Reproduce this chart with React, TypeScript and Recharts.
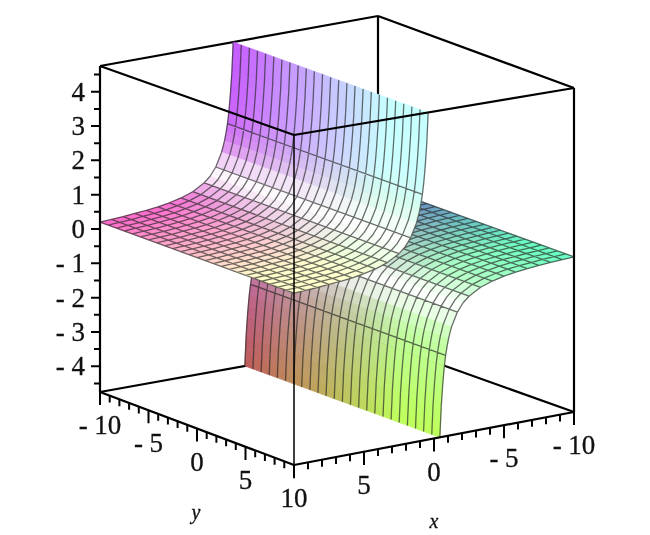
import React from "react";
import { ScatterChart, Scatter, XAxis, YAxis } from "recharts";

// surface, one z per x, same along y
const meshY = [-10, -9.17, -8.33, -7.5, -6.67, -5.83, -5, -4.17, -3.33, -2.5, -1.67, -0.83, 0, 0.83, 1.67, 2.5, 3.33, 4.17, 5, 5.83, 6.67, 7.5, 8.33, 9.17, 10];
const meshXPos = [10, 9.17, 8.33, 7.5, 6.67, 5.83, 5, 4.17, 3.33, 2.5, 1.67, 0.83];
const meshXNeg = [-10, -9.17, -8.33, -7.5, -6.67, -5.83, -5, -4.17, -3.33, -2.5, -1.67, -0.83];
const xPos = [0.42, 0.45, 0.48, 0.51, 0.56, 0.61, 0.67, 0.74, 0.83, 0.93, 1.04, 1.25, 1.67, 2.08, 2.5, 3.33, 4.17, 5, 5.83, 6.67, 7.5, 8.33, 9.17, 10];
const zPos = [4.75, 4.45, 4.2, 3.9, 3.6, 3.3, 3.0, 2.7, 2.4, 2.15, 1.92, 1.6, 1.2, 0.96, 0.8, 0.6, 0.48, 0.4, 0.34, 0.3, 0.27, 0.24, 0.22, 0.2];
const xNeg = [-10, -9.17, -8.33, -7.5, -6.67, -5.83, -5, -4.17, -3.33, -2.5, -2.08, -1.67, -1.25, -1.04, -0.93, -0.83, -0.74, -0.67, -0.61, -0.56, -0.51, -0.48, -0.45, -0.42];
const zNeg = [-0.2, -0.22, -0.24, -0.27, -0.3, -0.34, -0.4, -0.48, -0.6, -0.8, -0.96, -1.2, -1.6, -1.92, -2.15, -2.4, -2.7, -3.0, -3.3, -3.6, -3.9, -4.2, -4.45, -4.75];

const zTicks = [4.5, 4, 3.5, 3, 2.5, 2, 1.5, 1, 0.5, 0, -0.5, -1, -1.5, -2, -2.5, -3, -3.5, -4, -4.5];
const zLabels = ["4", "3", "2", "1", "0", "- 1", "- 2", "- 3", "- 4"];
const planeTicks = [-10, -9, -8, -7, -6, -5, -4, -3, -2, -1, 0, 1, 2, 3, 4, 5, 6, 7, 8, 9, 10];
const yLabels = ["- 10", "- 5", "0", "5", "10"];
const xLabels = ["5", "0", "- 5", "- 10"];

const Z_MIN = -4.75;
const Z_MAX = 4.75;

// box corners on the page: [x=-10,y=-10], [x=10,y=-10], [x=-10,y=10], [x=10,y=10]
const BOTTOM = [[378, 342], [100, 392], [574, 412], [294, 465]];
const TOP = [[378, 16], [100, 66], [574, 88], [294, 135]];

type Pt = { px: number; py: number };

const project = (x: number, y: number, z: number): Pt => {
  const u = (x + 10) / 20;
  const v = (y + 10) / 20;
  const w = (z - Z_MIN) / (Z_MAX - Z_MIN);
  const mix = (c: number[][], i: number) =>
    (1 - u) * (1 - v) * c[0][i] + u * (1 - v) * c[1][i] + (1 - u) * v * c[2][i] + u * v * c[3][i];
  return {
    px: mix(BOTTOM, 0) * (1 - w) + mix(TOP, 0) * w,
    py: mix(BOTTOM, 1) * (1 - w) + mix(TOP, 1) * w,
  };
};

// x, y, z drive red, green, blue; the bend catches the light
const cellColor = (x: number, y: number, z: number, slope: number) => {
  const angle = (Math.atan(slope) * 180) / Math.PI;
  const spread = angle < 28 ? 18 : 30;
  const white = 0.95 * Math.exp(-(((angle - 28) / spread) ** 2));
  const lift = (t: number) => Math.min(255, 85 + 215 * t);
  const rgb = [lift((x + 10) / 20), lift((y + 10) / 20), lift((z - Z_MIN) / (Z_MAX - Z_MIN))];
  const [r, g, b] = rgb.map((c) => Math.round(c * (1 - white) + 255 * white));
  return `rgb(${r},${g},${b})`;
};

const buildCells = (xs: number[], zs: number[]) => {
  const verts: Pt[] = [];
  const fills: string[] = [];
  for (let i = 0; i < xs.length - 1; i++) {
    const slope = Math.abs((zs[i + 1] - zs[i]) / (xs[i + 1] - xs[i]));
    for (let j = 0; j < meshY.length - 1; j++) {
      verts.push(
        project(xs[i], meshY[j], zs[i]),
        project(xs[i + 1], meshY[j], zs[i + 1]),
        project(xs[i + 1], meshY[j + 1], zs[i + 1]),
        project(xs[i], meshY[j + 1], zs[i]),
      );
      fills.push(cellColor((xs[i] + xs[i + 1]) / 2, (meshY[j] + meshY[j + 1]) / 2, (zs[i] + zs[i + 1]) / 2, slope));
    }
  }
  return { verts, fills };
};

const buildMesh = (xs: number[], zs: number[], meshX: number[]) => {
  const segs: Pt[] = [];
  meshY.forEach((y) => {
    for (let i = 0; i < xs.length - 1; i++) segs.push(project(xs[i], y, zs[i]), project(xs[i + 1], y, zs[i + 1]));
  });
  meshX.forEach((x) => {
    const z = zs[xs.indexOf(x)];
    segs.push(project(x, -10, z), project(x, 10, z));
  });
  return segs;
};

const edge = (a: number[], b: number[]): Pt[] => [project(a[0], a[1], a[2]), project(b[0], b[1], b[2])];

const backEdges = [
  ...edge([-10, -10, Z_MIN], [-10, -10, Z_MAX]),
  ...edge([-10, -10, Z_MAX], [10, -10, Z_MAX]),
  ...edge([-10, -10, Z_MAX], [-10, 10, Z_MAX]),
  ...edge([-10, -10, Z_MIN], [10, -10, Z_MIN]),
  ...edge([-10, -10, Z_MIN], [-10, 10, Z_MIN]),
];
const frontEdges = [
  ...edge([10, -10, Z_MAX], [10, 10, Z_MAX]),
  ...edge([10, 10, Z_MAX], [-10, 10, Z_MAX]),
  ...edge([10, -10, Z_MIN], [10, 10, Z_MIN]),
  ...edge([10, 10, Z_MIN], [-10, 10, Z_MIN]),
  ...edge([-10, 10, Z_MIN], [-10, 10, Z_MAX]),
  ...edge([10, -10, Z_MIN], [10, -10, Z_MAX]),
];
const frontPost = edge([10, 10, Z_MIN], [10, 10, Z_MAX]);

const tickLen = (t: number) => (t % 5 === 0 ? 0.38 : 0.2);
const planeTickSegs = planeTicks.flatMap((t) => [
  ...edge([10, t, Z_MIN], [10, t, Z_MIN - tickLen(t)]),
  ...edge([t, 10, Z_MIN], [t, 10, Z_MIN - tickLen(t)]),
]);
const zTickSegs = zTicks.flatMap((t) => {
  const p = project(10, -10, t);
  return [p, { px: p.px - (Number.isInteger(t) ? 9 : 6), py: p.py }];
});

const tickText = [
  ...zLabels.map((label) => {
    const p = project(10, -10, Number(label.replace(" ", "")));
    return { px: p.px - 15, py: p.py + 9, label, anchor: "end", size: 27, italic: false };
  }),
  ...yLabels.map((label) => {
    const p = project(10, Number(label.replace(" ", "")), Z_MIN);
    return { px: p.px, py: p.py + 42, label, anchor: "middle", size: 27, italic: false };
  }),
  ...xLabels.map((label) => {
    const p = project(Number(label.replace(" ", "")), 10, Z_MIN);
    return { px: p.px, py: p.py + 42, label, anchor: "middle", size: 27, italic: false };
  }),
  { px: 196, py: 519, label: "y", anchor: "middle", size: 20, italic: true },
  { px: 434, py: 528, label: "x", anchor: "middle", size: 20, italic: true },
];

const noDot = () => null;

const drawCells = (fills: string[]) => (p: any) => (
  <g>
    {fills.map((fill, i) => {
      const c = p.points.slice(i * 4, i * 4 + 4);
      return (
        <polygon
          key={i}
          points={c.map((q: any) => `${q.x},${q.y}`).join(" ")}
          fill={fill}
          stroke={fill}
          strokeWidth={0.7}
        />
      );
    })}
  </g>
);

const drawSegments = (stroke: string, width: number, opacity = 1) => (p: any) => {
  let d = "";
  for (let i = 0; i + 1 < p.points.length; i += 2) {
    d += `M${p.points[i].x} ${p.points[i].y}L${p.points[i + 1].x} ${p.points[i + 1].y}`;
  }
  return <path d={d} fill="none" stroke={stroke} strokeWidth={width} strokeOpacity={opacity} />;
};

const drawLabel = (p: any) => (
  <text
    x={p.cx}
    y={p.cy}
    textAnchor={p.payload.anchor}
    fontFamily="Liberation Serif"
    fontSize={p.payload.size}
    fontStyle={p.payload.italic ? "italic" : "normal"}
    fill="#111"
    stroke="#111"
    strokeWidth={0.3}
  >
    {p.payload.label}
  </text>
);

const negCells = buildCells(xNeg, zNeg);
const posCells = buildCells(xPos, zPos);
const negMesh = buildMesh(xNeg, zNeg, meshXNeg);
const posMesh = buildMesh(xPos, zPos, meshXPos);

export default function App() {
  const series = (data: Pt[], line: any) => (
    <Scatter data={data} line={line} shape={noDot} isAnimationActive={false} />
  );
  return (
    <div style={{ position: "absolute", left: 0, top: 0, width: 650, height: 535, filter: "blur(0.6px)" }}>
      <ScatterChart width={650} height={535} margin={{ top: 0, right: 0, bottom: 0, left: 0 }}>
        <XAxis type="number" dataKey="px" domain={[0, 650]} hide />
        <YAxis type="number" dataKey="py" domain={[0, 535]} reversed hide />
        {series(backEdges, drawSegments("#000", 2.2))}
        {series(negCells.verts, drawCells(negCells.fills))}
        {series(negMesh, drawSegments("#222", 1.3, 0.65))}
        {series(posCells.verts, drawCells(posCells.fills))}
        {series(posMesh, drawSegments("#222", 1.3, 0.65))}
        {series(frontEdges, drawSegments("#000", 2.2))}
        {series(frontPost, drawSegments("#000", 1.5))}
        {series(planeTickSegs, drawSegments("#000", 2))}
        {series(zTickSegs, drawSegments("#000", 2))}
        <Scatter data={tickText} shape={drawLabel} isAnimationActive={false} />
      </ScatterChart>
    </div>
  );
}
